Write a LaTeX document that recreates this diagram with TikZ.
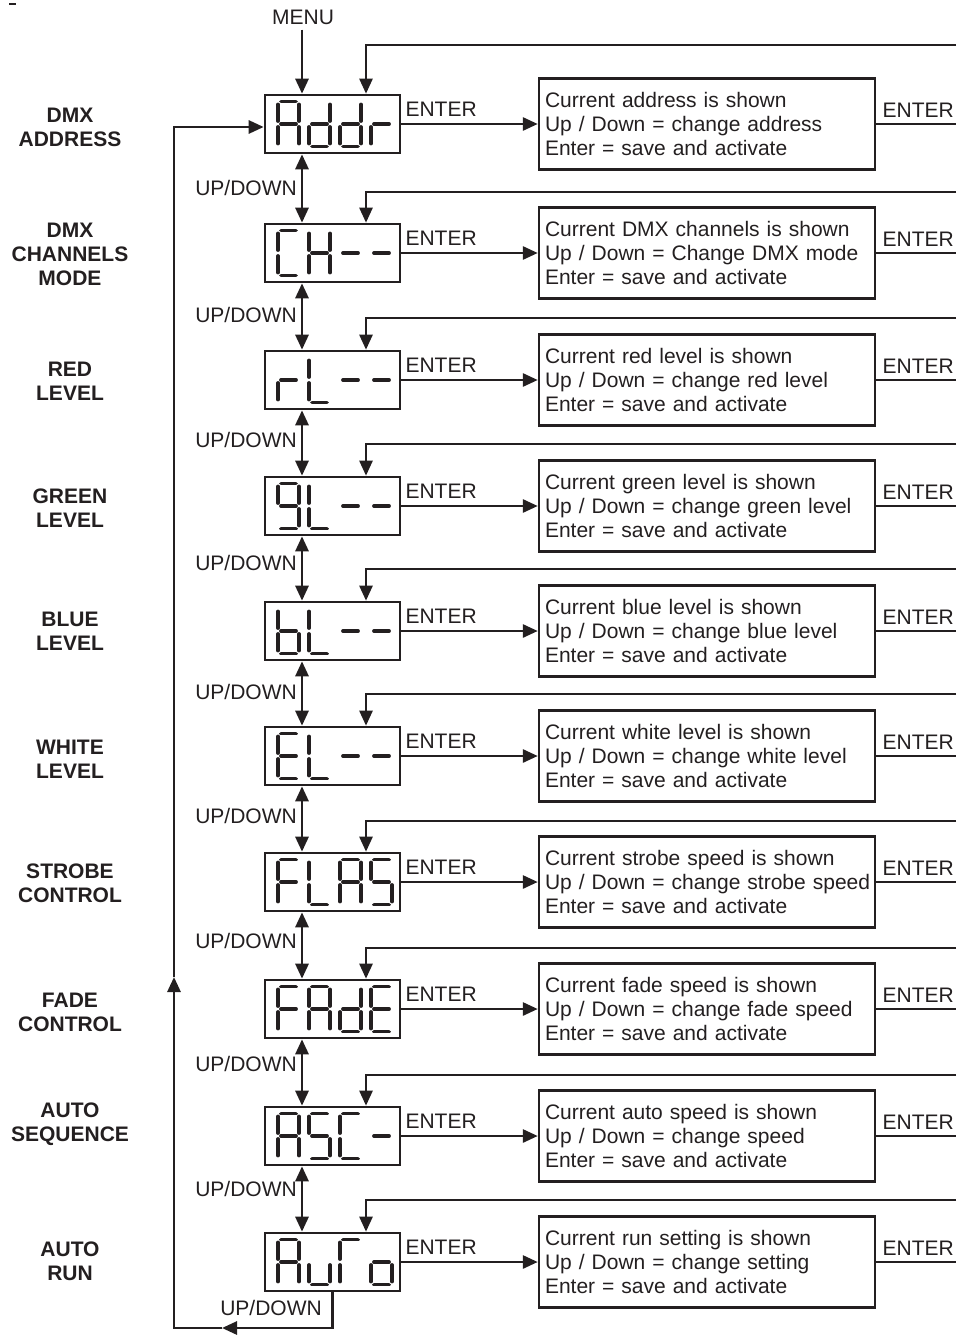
\documentclass[tikz,border=0pt]{standalone}
\usepackage{fontspec}
\setmainfont{Liberation Sans}
\usetikzlibrary{arrows.meta,positioning}
\definecolor{ink}{HTML}{231F20}

\newcommand{\dgmfont}{\fontsize{21}{24}\selectfont}
% seven-segment pieces, (#1,#2) = top left corner of one digit
\newcommand{\sgA}[2]{\draw[seg] (#1+3,#2) -- (#1+18,#2);}
\newcommand{\sgB}[2]{\draw[seg] (#1+21,#2+3) -- (#1+21,#2+19.5);}
\newcommand{\sgC}[2]{\draw[seg] (#1+21,#2+25.5) -- (#1+21,#2+42);}
\newcommand{\sgD}[2]{\draw[seg] (#1+3,#2+45) -- (#1+18,#2+45);}
\newcommand{\sgE}[2]{\draw[seg] (#1,#2+25.5) -- (#1,#2+42);}
\newcommand{\sgF}[2]{\draw[seg] (#1,#2+3) -- (#1,#2+19.5);}
\newcommand{\sgG}[2]{\draw[seg] (#1+3,#2+22.5) -- (#1+18,#2+22.5);}
\newcommand{\segchar}[3]{\foreach \s in {#3}{\csname sg\s\endcsname{#1}{#2}}}
\newcommand{\segword}[5]{\segchar{278}{#1}{#2}\segchar{309}{#1}{#3}%
  \segchar{340}{#1}{#4}\segchar{371}{#1}{#5}}

\begin{document}
\begin{tikzpicture}[x=1pt,y=-1pt,
  disp/.style={draw=ink,line width=2.6pt,minimum width=135pt,
               minimum height=58pt,inner sep=0pt},
  info/.style={draw=ink,line width=2.4pt,minimum width=336pt,
               minimum height=91pt,text width=324pt,inner xsep=6pt,
               align=left,font=\dgmfont,text=ink},
  side/.style={font=\dgmfont\bfseries,text=ink,align=center},
  lbl/.style={font=\dgmfont,text=ink,inner sep=0pt},
  seg/.style={line width=3.8pt,line cap=round,ink},
  arr/.style={-{Triangle[length=15pt,width=13pt]},line width=2.8pt,ink},
  dblarr/.style={{Triangle[length=15pt,width=13pt]}-{Triangle[length=15pt,width=13pt]},
                 line width=2.8pt,ink},
  exitln/.style={line width=2pt,ink}
]
  \useasboundingbox (0,0) rectangle (956,1335);
  \draw[ink,line width=1.2pt] (9,4) -- (16,4);

  % ---- Side captions ------------------------------------------
  \node[side] (tAddr) at (70,127)  {DMX\\ADDRESS};
  \node[side] (tCH)   at (70,254)  {DMX\\CHANNELS\\MODE};
  \node[side] (trL)   at (70,381)  {RED\\LEVEL};
  \node[side] (tgL)   at (70,508)  {GREEN\\LEVEL};
  \node[side] (tbL)   at (70,631)  {BLUE\\LEVEL};
  \node[side] (tEL)   at (70,759)  {WHITE\\LEVEL};
  \node[side] (tFLAS) at (70,883)  {STROBE\\CONTROL};
  \node[side] (tFAdE) at (70,1012) {FADE\\CONTROL};
  \node[side] (tASC)  at (70,1124) {AUTO\\SEQUENCE};
  \node[side] (tAuto) at (70,1261) {AUTO\\RUN};

  % ---- Display windows ----------------------------------------
  \node[disp] (dAddr) at (332.5,124)  {};
  \node[disp] (dCH)   at (332.5,253)  {};
  \node[disp] (drL)   at (332.5,380)  {};
  \node[disp] (dgL)   at (332.5,506)  {};
  \node[disp] (dbL)   at (332.5,631)  {};
  \node[disp] (dEL)   at (332.5,756)  {};
  \node[disp] (dFLAS) at (332.5,882)  {};
  \node[disp] (dFAdE) at (332.5,1009) {};
  \node[disp] (dASC)  at (332.5,1136) {};
  \node[disp] (dAuto) at (332.5,1262) {};

  % ---- Segment readouts ---------------------------------------
  \segword{101.5}{A,B,C,E,F,G}{B,C,D,E,G}{B,C,D,E,G}{E,G}
  \segword{230.5}{A,D,E,F}{B,C,E,F,G}{G}{G}
  \segword{357.5}{E,G}{D,E,F}{G}{G}
  \segword{483.5}{A,B,C,D,F,G}{D,E,F}{G}{G}
  \segword{608.5}{C,D,E,F,G}{D,E,F}{G}{G}
  \segword{733.5}{A,D,E,F,G}{D,E,F}{G}{G}
  \segword{859.5}{A,E,F,G}{D,E,F}{A,B,C,E,F,G}{A,C,D,F,G}
  \segword{986.5}{A,E,F,G}{A,B,C,E,F,G}{B,C,D,E,G}{A,D,E,F,G}
  \segword{1113.5}{A,B,C,E,F,G}{A,C,D,F,G}{A,D,E,F}{G}
  \segword{1239.5}{A,B,C,E,F,G}{C,D,E}{A,E,F}{C,D,E,G}

  % ---- Setting boxes ------------------------------------------
  \node[info] (iAddr) at (707,124)
    {Current address is shown\\Up / Down = change address\\Enter = save and activate};
  \node[info] (iCH) at (707,253)
    {Current DMX channels is shown\\Up / Down = Change DMX mode\\Enter = save and activate};
  \node[info] (irL) at (707,380)
    {Current red level is shown\\Up / Down = change red level\\Enter = save and activate};
  \node[info] (igL) at (707,506)
    {Current green level is shown\\Up / Down = change green level\\Enter = save and activate};
  \node[info] (ibL) at (707,631)
    {Current blue level is shown\\Up / Down = change blue level\\Enter = save and activate};
  \node[info] (iEL) at (707,756)
    {Current white level is shown\\Up / Down = change white level\\Enter = save and activate};
  \node[info] (iFLAS) at (707,882)
    {Current strobe speed is shown\\\mbox{Up / Down = change strobe speed}\\Enter = save and activate};
  \node[info] (iFAdE) at (707,1009)
    {Current fade speed is shown\\Up / Down = change fade speed\\Enter = save and activate};
  \node[info] (iASC) at (707,1136)
    {Current auto speed is shown\\Up / Down = change speed\\Enter = save and activate};
  \node[info] (iAuto) at (707,1262)
    {Current run setting is shown\\Up / Down = change setting\\Enter = save and activate};

  % ---- MENU entry ---------------------------------------------
  \node[lbl] (menu) at (303,17) {MENU};
  \draw[arr] ([xshift=-1pt,yshift=-5pt]menu.south) -- ([xshift=-1pt]menu.south |- dAddr.north);

  % ---- ENTER paths --------------------------------------------
  \coordinate (edge) at (956,0);
  \foreach \r in {Addr,CH,rL,gL,bL,EL,FLAS,FAdE,ASC,Auto}{
    \draw[arr] (d\r.east) -- (i\r.west);
    \node[lbl,anchor=west] (en\r) at ([xshift=4pt,yshift=15pt]d\r.east) {ENTER};
    \draw[exitln] (i\r.east) -- (i\r.east -| edge);
    \node[lbl] (ex\r) at ([xshift=42pt,yshift=14pt]i\r.east) {ENTER};
  }

  % return lines coming back from the right edge
  \foreach \r/\ry in {Addr/45,CH/192,rL/318,gL/444,bL/569,EL/694,
                      FLAS/821,FAdE/948,ASC/1075,Auto/1200}{
    \coordinate (rt\r) at (956,\ry);
    \draw[arr,line width=2.5pt] (rt\r) -| ([xshift=33.5pt]d\r.north);
  }

  % ---- UP/DOWN steps ------------------------------------------
  \foreach \a/\b/\ly in {Addr/CH/188,CH/rL/315,rL/gL/440,gL/bL/563,bL/EL/692,
                         EL/FLAS/816,FLAS/FAdE/941,FAdE/ASC/1064,ASC/Auto/1189}{
    \draw[dblarr] ([xshift=-30.5pt]d\a.south) -- ([xshift=-30.5pt]d\b.north);
    \node[lbl,anchor=east] (ud\a) at (297,\ly) {UP/DOWN};
  }

  % wrap-around back to the top
  \coordinate (lpA) at (222,1328);
  \coordinate (lpB) at (174,977);
  \draw[arr] (dAuto.south) |- (lpA);
  \draw[arr] (lpA) -| (lpB);
  \draw[arr] (lpB) |- ([yshift=-3pt]dAddr.west);
  \node[lbl] (udAuto) at (271,1308) {UP/DOWN};

\end{tikzpicture}
\end{document}
